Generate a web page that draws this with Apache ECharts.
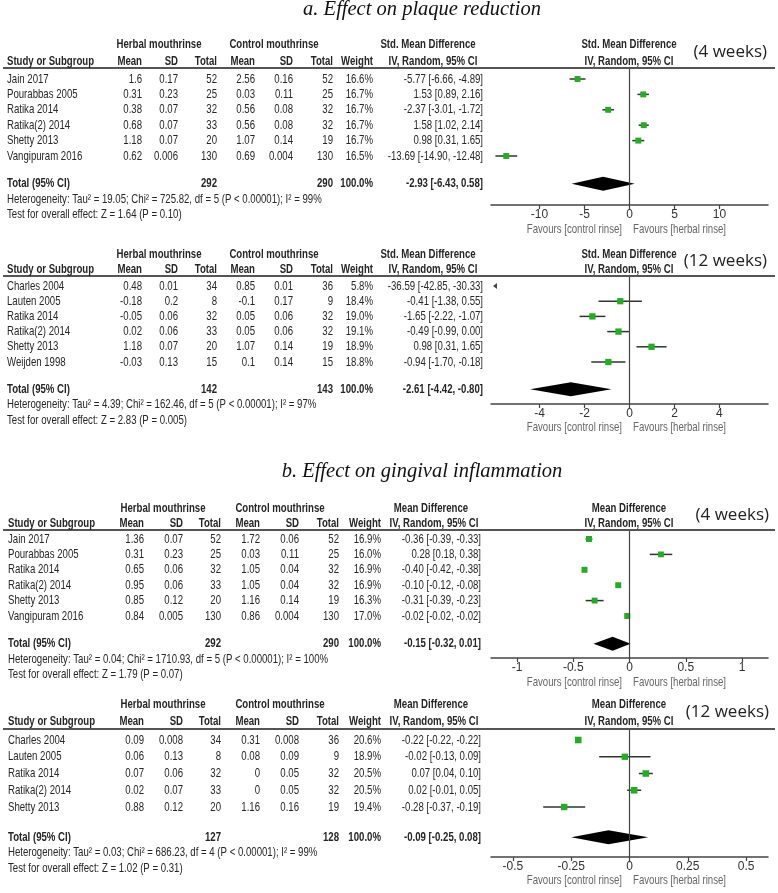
<!DOCTYPE html>
<html><head><meta charset="utf-8">
<script src="https://cdn.jsdelivr.net/npm/echarts@6/dist/echarts.min.js"></script>
<style>html,body{margin:0;padding:0;background:#fff}#c{width:778px;height:893px}</style>
</head><body><div id="c"></div>
<script>
// ================= DATA =================
// a. plaque reduction, 4 weeks (Std. Mean Difference)
const plaque4Studies = ['Jain 2017','Pourabbas 2005','Ratika 2014','Ratika(2) 2014','Shetty 2013','Vangipuram 2016'];
const plaque4HerbMean = [1.6, 0.31, 0.38, 0.68, 1.18, 0.62];
const plaque4HerbSD = [0.17, 0.23, 0.07, 0.07, 0.07, 0.006];
const plaque4HerbN = [52, 25, 32, 33, 20, 130];
const plaque4CtrlMean = [2.56, 0.03, 0.56, 0.56, 1.07, 0.69];
const plaque4CtrlSD = [0.16, 0.11, 0.08, 0.08, 0.14, 0.004];
const plaque4CtrlN = [52, 25, 32, 32, 19, 130];
const plaque4Weight = [16.6, 16.7, 16.7, 16.7, 16.7, 16.5];
const plaque4Est = [-5.77, 1.53, -2.37, 1.58, 0.98, -13.69];
const plaque4Lo = [-6.66, 0.89, -3.01, 1.02, 0.31, -14.90];
const plaque4Hi = [-4.89, 2.16, -1.72, 2.14, 1.65, -12.48];
const plaque4Total = [-2.93, -6.43, 0.58];
const plaque4TotalN = [292, 290];
const plaque4Het = 'Heterogeneity: Tau² = 19.05; Chi² = 725.82, df = 5 (P < 0.00001); I² = 99%';
const plaque4Test = 'Test for overall effect: Z = 1.64 (P = 0.10)';
const plaque4Ticks = [-10, -5, 0, 5, 10];

// a. plaque reduction, 12 weeks (Std. Mean Difference)
const plaque12Studies = ['Charles 2004','Lauten 2005','Ratika 2014','Ratika(2) 2014','Shetty 2013','Weijden 1998'];
const plaque12HerbMean = [0.48, -0.18, -0.05, 0.02, 1.18, -0.03];
const plaque12HerbSD = [0.01, 0.2, 0.06, 0.06, 0.07, 0.13];
const plaque12HerbN = [34, 8, 32, 33, 20, 15];
const plaque12CtrlMean = [0.85, -0.1, 0.05, 0.05, 1.07, 0.1];
const plaque12CtrlSD = [0.01, 0.17, 0.06, 0.06, 0.14, 0.14];
const plaque12CtrlN = [36, 9, 32, 32, 19, 15];
const plaque12Weight = [5.8, 18.4, 19.0, 19.1, 18.9, 18.8];
const plaque12Est = [-36.59, -0.41, -1.65, -0.49, 0.98, -0.94];
const plaque12Lo = [-42.85, -1.38, -2.22, -0.99, 0.31, -1.70];
const plaque12Hi = [-30.33, 0.55, -1.07, 0.00, 1.65, -0.18];
const plaque12Total = [-2.61, -4.42, -0.80];
const plaque12TotalN = [142, 143];
const plaque12Het = 'Heterogeneity: Tau² = 4.39; Chi² = 162.46, df = 5 (P < 0.00001); I² = 97%';
const plaque12Test = 'Test for overall effect: Z = 2.83 (P = 0.005)';
const plaque12Ticks = [-4, -2, 0, 2, 4];

// b. gingival inflammation, 4 weeks (Mean Difference)
const ging4Studies = ['Jain 2017','Pourabbas 2005','Ratika 2014','Ratika(2) 2014','Shetty 2013','Vangipuram 2016'];
const ging4HerbMean = [1.36, 0.31, 0.65, 0.95, 0.85, 0.84];
const ging4HerbSD = [0.07, 0.23, 0.06, 0.06, 0.12, 0.005];
const ging4HerbN = [52, 25, 32, 33, 20, 130];
const ging4CtrlMean = [1.72, 0.03, 1.05, 1.05, 1.16, 0.86];
const ging4CtrlSD = [0.06, 0.11, 0.04, 0.04, 0.14, 0.004];
const ging4CtrlN = [52, 25, 32, 32, 19, 130];
const ging4Weight = [16.9, 16.0, 16.9, 16.9, 16.3, 17.0];
const ging4Est = [-0.36, 0.28, -0.40, -0.10, -0.31, -0.02];
const ging4Lo = [-0.39, 0.18, -0.42, -0.12, -0.39, -0.02];
const ging4Hi = [-0.33, 0.38, -0.38, -0.08, -0.23, -0.02];
const ging4Total = [-0.15, -0.32, 0.01];
const ging4TotalN = [292, 290];
const ging4Het = 'Heterogeneity: Tau² = 0.04; Chi² = 1710.93, df = 5 (P < 0.00001); I² = 100%';
const ging4Test = 'Test for overall effect: Z = 1.79 (P = 0.07)';
const ging4Ticks = [-1, -0.5, 0, 0.5, 1];

// b. gingival inflammation, 12 weeks (Mean Difference)
const ging12Studies = ['Charles 2004','Lauten 2005','Ratika 2014','Ratika(2) 2014','Shetty 2013'];
const ging12HerbMean = [0.09, 0.06, 0.07, 0.02, 0.88];
const ging12HerbSD = [0.008, 0.13, 0.06, 0.07, 0.12];
const ging12HerbN = [34, 8, 32, 33, 20];
const ging12CtrlMean = [0.31, 0.08, 0, 0, 1.16];
const ging12CtrlSD = [0.008, 0.09, 0.05, 0.05, 0.16];
const ging12CtrlN = [36, 9, 32, 32, 19];
const ging12Weight = [20.6, 18.9, 20.5, 20.5, 19.4];
const ging12Est = [-0.22, -0.02, 0.07, 0.02, -0.28];
const ging12Lo = [-0.22, -0.13, 0.04, -0.01, -0.37];
const ging12Hi = [-0.22, 0.09, 0.10, 0.05, -0.19];
const ging12Total = [-0.09, -0.25, 0.08];
const ging12TotalN = [127, 128];
const ging12Het = 'Heterogeneity: Tau² = 0.03; Chi² = 686.23, df = 4 (P < 0.00001); I² = 99%';
const ging12Test = 'Test for overall effect: Z = 1.02 (P = 0.31)';
const ging12Ticks = [-0.5, -0.25, 0, 0.25, 0.5];

const titleA = 'a. Effect on plaque reduction';
const titleB = 'b. Effect on gingival inflammation';
const favLeft = 'Favours [control rinse]';
const favRight = 'Favours [herbal rinse]';

const panels = [
  {studies:plaque4Studies, hm:plaque4HerbMean, hs:plaque4HerbSD, hn:plaque4HerbN, cm:plaque4CtrlMean, cs:plaque4CtrlSD, cn:plaque4CtrlN, w:plaque4Weight, est:plaque4Est, lo:plaque4Lo, hi:plaque4Hi, total:plaque4Total, totalN:plaque4TotalN, het:plaque4Het, test:plaque4Test, ticks:plaque4Ticks, effect:'Std. Mean Difference', weeks:'(4 weeks)'},
  {studies:plaque12Studies, hm:plaque12HerbMean, hs:plaque12HerbSD, hn:plaque12HerbN, cm:plaque12CtrlMean, cs:plaque12CtrlSD, cn:plaque12CtrlN, w:plaque12Weight, est:plaque12Est, lo:plaque12Lo, hi:plaque12Hi, total:plaque12Total, totalN:plaque12TotalN, het:plaque12Het, test:plaque12Test, ticks:plaque12Ticks, effect:'Std. Mean Difference', weeks:'(12 weeks)'},
  {studies:ging4Studies, hm:ging4HerbMean, hs:ging4HerbSD, hn:ging4HerbN, cm:ging4CtrlMean, cs:ging4CtrlSD, cn:ging4CtrlN, w:ging4Weight, est:ging4Est, lo:ging4Lo, hi:ging4Hi, total:ging4Total, totalN:ging4TotalN, het:ging4Het, test:ging4Test, ticks:ging4Ticks, effect:'Mean Difference', weeks:'(4 weeks)'},
  {studies:ging12Studies, hm:ging12HerbMean, hs:ging12HerbSD, hn:ging12HerbN, cm:ging12CtrlMean, cs:ging12CtrlSD, cn:ging12CtrlN, w:ging12Weight, est:ging12Est, lo:ging12Lo, hi:ging12Hi, total:ging12Total, totalN:ging12TotalN, het:ging12Het, test:ging12Test, ticks:ging12Ticks, effect:'Mean Difference', weeks:'(12 weeks)'}
];

// ================= LAYOUT =================
const colsA = {study:7, mean:142, sd:178, tot:217, cmean:255, csd:293, ctot:333, weight:373, ci:483, herbHdr:159, ctrlHdr:274, eff1:428, eff2:433, weeks:767};
const colsB = {study:8, mean:144, sd:183, tot:221, cmean:260, csd:299, ctot:339, weight:381, ci:481, herbHdr:163, ctrlHdr:280, eff1:431, eff2:434, weeks:769};
const layouts = [
  {h1:44, h2:61, line:68, row0:79, step:15.4, axis:205, fav:229, cols:colsA, xHalf:15.39},
  {h1:254, h2:269, line:276, row0:286, step:15.2, axis:404, fav:427, cols:colsA, xHalf:6.16},
  {h1:508, h2:523, line:530, row0:539, step:15.4, axis:658, fav:682, cols:colsB, xHalf:1.231},
  {h1:704, h2:721, line:729, row0:740, step:16.75, axis:857, fav:880, cols:colsB, xHalf:0.594}
];
const PLOT_LEFT = 491, PLOT_W = 277, ZERO_X = 629;
const FF = '"Liberation Sans", Arial, sans-serif';
const SX = 0.74;
const FS = 13;
const TXT = '#262626';
const GREEN = '#22ad22';

function T(x, y, text, o) {
  o = o || {};
  return {type:'text', x:x, y:y, scaleX:(o.sx == null ? SX : o.sx), silent:true, z:10,
    style:{text:String(text), fontSize:o.size||FS, fontFamily:o.ff||FF,
      fontWeight:o.bold?'bold':'normal', fontStyle:o.italic?'italic':'normal',
      fill:o.color||TXT, align:o.align||'left', verticalAlign:'middle'}};
}
function fmtCI(e, l, h) { return e.toFixed(2) + ' [' + l.toFixed(2) + ', ' + h.toFixed(2) + ']'; }

function studyRender(xmin, xmax) {
  return function (params, api) {
    const est = api.value(0), lo = api.value(1), hi = api.value(2), row = api.value(3), w = api.value(4);
    const y = api.coord([0, row])[1];
    if (hi < xmin) {
      const px = api.coord([xmin, row])[0];
      return {type:'polygon', shape:{points:[[px + 2, y], [px + 6, y - 3], [px + 6, y + 3]]}, style:{fill:'#444'}};
    }
    const x1 = api.coord([Math.max(lo, xmin), row])[0];
    const x2 = api.coord([Math.min(hi, xmax), row])[0];
    const xe = api.coord([est, row])[0];
    const s = 1.45 * Math.sqrt(w);
    return {type:'group', children:[
      {type:'line', shape:{x1:x1, y1:y, x2:x2, y2:y}, style:{stroke:'#333', lineWidth:1.5}},
      {type:'rect', shape:{x:xe - s / 2, y:y - s / 2, width:s, height:s}, style:{fill:GREEN}}
    ]};
  };
}
function diamondRender(params, api) {
  const row = api.value(3);
  const pL = api.coord([api.value(1), row]), pE = api.coord([api.value(0), row]), pR = api.coord([api.value(2), row]);
  const h = 7;
  return {type:'polygon', shape:{points:[[pL[0], pL[1]], [pE[0], pE[1] - h], [pR[0], pR[1]], [pE[0], pE[1] + h]]}, style:{fill:'#000'}};
}

const chart = echarts.init(document.getElementById('c'), null, {renderer:'canvas'});
const grids = [], xAxes = [], yAxes = [], series = [];
panels.forEach(function (p, i) {
  const L = layouts[i];
  const n = p.studies.length;
  grids.push({left:PLOT_LEFT, width:PLOT_W, top:L.line, height:L.axis - L.line, containLabel:false, show:false});
  xAxes.push({type:'value', gridIndex:i, min:-L.xHalf, max:L.xHalf, position:'bottom',
    splitLine:{show:false},
    axisLine:{show:true, onZero:false, lineStyle:{color:'#444', width:1.5}},
    axisTick:{show:true, length:4, lineStyle:{color:'#444', width:1.2}, customValues:p.ticks},
    axisLabel:{show:true, customValues:p.ticks, margin:4, fontSize:12, fontFamily:'"Liberation Sans Narrow", ' + FF, color:'#333'}});
  yAxes.push({type:'value', gridIndex:i, inverse:true, show:false,
    min:-(L.row0 - L.line) / L.step, max:(L.axis - L.row0) / L.step});
  const data = p.est.map(function (e, k) { return [e, p.lo[k], p.hi[k], k, p.w[k]]; });
  series.push({type:'custom', xAxisIndex:i, yAxisIndex:i, encode:{x:0, y:3}, data:data,
    renderItem:studyRender(-L.xHalf, L.xHalf), clip:false, z:3,
    markLine:{silent:true, symbol:'none', label:{show:false}, animation:false,
      lineStyle:{color:'#444', width:1.2, type:'solid'}, data:[{xAxis:0}]}});
  series.push({type:'custom', xAxisIndex:i, yAxisIndex:i, encode:{x:0, y:3},
    data:[[p.total[0], p.total[1], p.total[2], n + 0.8]], renderItem:diamondRender, z:4});
});

chart.setOption({animation:false, backgroundColor:'#fff', grid:grids, xAxis:xAxes, yAxis:yAxes, series:series});

// ================= TEXT TABLE =================
const g = [];
const serif = '"Liberation Serif", "DejaVu Serif", serif';
g.push(T(422, 10, titleA, {sx:1, ff:serif, italic:true, size:20.5, align:'center', color:'#111'}));
g.push(T(422, 472, titleB, {sx:1, ff:serif, italic:true, size:20.5, align:'center', color:'#111'}));

panels.forEach(function (p, i) {
  const L = layouts[i], C = L.cols;
  const n = p.studies.length;
  const rowY = function (r) { return chart.convertToPixel({xAxisIndex:i, yAxisIndex:i}, [0, r])[1]; };
  // header
  g.push({type:'line', silent:true, shape:{x1:3, y1:L.line, x2:775, y2:L.line}, style:{stroke:'#555', lineWidth:2}, z:5});
  g.push(T(C.herbHdr, L.h1, 'Herbal mouthrinse', {bold:true, align:'center'}));
  g.push(T(C.ctrlHdr, L.h1, 'Control mouthrinse', {bold:true, align:'center'}));
  g.push(T(C.eff1, L.h1, p.effect, {bold:true, align:'center'}));
  g.push(T(ZERO_X, L.h1, p.effect, {bold:true, align:'center'}));
  g.push(T(C.study, L.h2, 'Study or Subgroup', {bold:true}));
  g.push(T(C.mean, L.h2, 'Mean', {bold:true, align:'right'}));
  g.push(T(C.sd, L.h2, 'SD', {bold:true, align:'right'}));
  g.push(T(C.tot, L.h2, 'Total', {bold:true, align:'right'}));
  g.push(T(C.cmean, L.h2, 'Mean', {bold:true, align:'right'}));
  g.push(T(C.csd, L.h2, 'SD', {bold:true, align:'right'}));
  g.push(T(C.ctot, L.h2, 'Total', {bold:true, align:'right'}));
  g.push(T(C.weight, L.h2, 'Weight', {bold:true, align:'right'}));
  g.push(T(C.eff2, L.h2, 'IV, Random, 95% CI', {bold:true, align:'center'}));
  g.push(T(ZERO_X, L.h2, 'IV, Random, 95% CI', {bold:true, align:'center'}));
  g.push(T(C.weeks, (L.h1 + L.h2) / 2, p.weeks, {sx:1, ff:'"Open Sans", "Noto Sans", sans-serif', size:17, color:'#222', align:'right'}));
  // study rows
  p.studies.forEach(function (s, k) {
    const y = rowY(k);
    g.push(T(C.study, y, s));
    g.push(T(C.mean, y, String(p.hm[k]), {align:'right'}));
    g.push(T(C.sd, y, String(p.hs[k]), {align:'right'}));
    g.push(T(C.tot, y, String(p.hn[k]), {align:'right'}));
    g.push(T(C.cmean, y, String(p.cm[k]), {align:'right'}));
    g.push(T(C.csd, y, String(p.cs[k]), {align:'right'}));
    g.push(T(C.ctot, y, String(p.cn[k]), {align:'right'}));
    g.push(T(C.weight, y, p.w[k].toFixed(1) + '%', {align:'right'}));
    g.push(T(C.ci, y, fmtCI(p.est[k], p.lo[k], p.hi[k]), {align:'right'}));
  });
  // total
  const ty = rowY(n + 0.8);
  g.push(T(C.study, ty, 'Total (95% CI)', {bold:true}));
  g.push(T(C.tot, ty, String(p.totalN[0]), {bold:true, align:'right'}));
  g.push(T(C.ctot, ty, String(p.totalN[1]), {bold:true, align:'right'}));
  g.push(T(C.weight, ty, '100.0%', {bold:true, align:'right'}));
  g.push(T(C.ci, ty, fmtCI(p.total[0], p.total[1], p.total[2]), {bold:true, align:'right'}));
  g.push(T(C.study, ty + 15.5, p.het));
  g.push(T(C.study, ty + 31, p.test));
  // favours
  g.push(T(ZERO_X - 7, L.fav, favLeft, {align:'right', color:'#666'}));
  g.push(T(ZERO_X + 4, L.fav, favRight, {align:'left', color:'#666'}));
});

chart.setOption({graphic:{elements:g}});
</script></body></html>
